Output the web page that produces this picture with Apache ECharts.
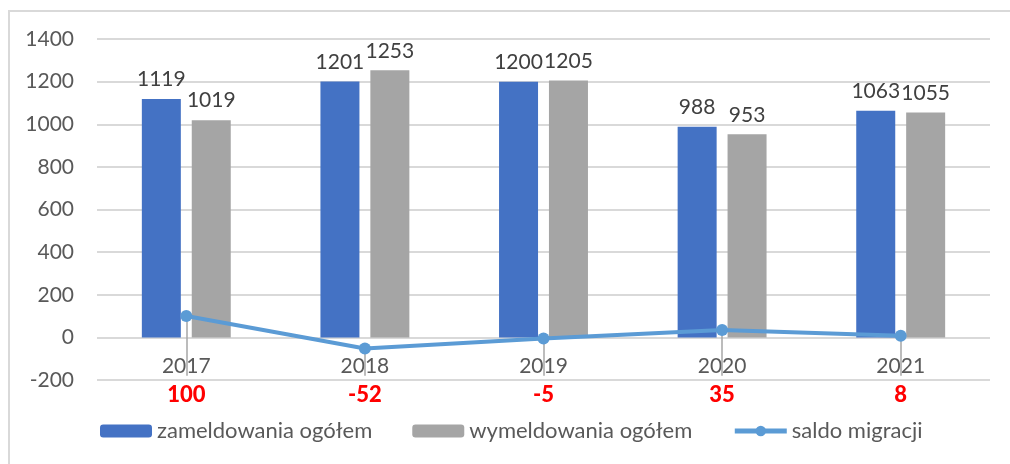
<!DOCTYPE html>
<html>
<head>
<meta charset="utf-8">
<script src="https://cdn.jsdelivr.net/npm/echarts@6/dist/echarts.min.js"></script>
<style>
    html, body { margin: 0; padding: 0; background: #fff; }
    #frame { position: absolute; left: 8px; top: 10px; width: 1002px; height: 454px;
        border-left: 2px solid #d9d9d9; border-top: 2px solid #d9d9d9; box-sizing: border-box; }
    #chart { position: absolute; left: 0; top: 0; width: 1010px; height: 464px; }
</style>
</head>
<body>
<div id="frame"></div>
<div id="chart"></div>
<script>
// dane wykresu
var years = ['2017', '2018', '2019', '2020', '2021'];
var zameldowania = [1119, 1201, 1200, 988, 1063];
var wymeldowania = [1019, 1253, 1205, 953, 1055];
var saldo = [100, -52, -5, 35, 8];
var yTicks = [-200, 0, 200, 400, 600, 800, 1000, 1200, 1400];

window.onload = function () {
    var myChart = echarts.init(document.getElementById('chart'));
    var font = 'Lato, "Liberation Sans", sans-serif';

    var barLabel = {
        show: true,
        position: 'top',
        distance: 9,
        color: '#404040',
        fontSize: 21,
        fontFamily: font
    };

    // linie odniesienia od punktu do etykiety
    var leaders = [];
    for (var i = 0; i < saldo.length; i++) {
        leaders.push([{ coord: [i, saldo[i]] }, { coord: [i, -180] }]);
    }

    var option = {
        animation: false,
        textStyle: { fontFamily: font },
        grid: { left: 97, top: 39, width: 893, height: 341 },
        legend: {
            bottom: 17,
            left: 95,
            itemWidth: 52,
            itemHeight: 13,
            itemGap: 40,
            textStyle: { color: '#595959', fontSize: 22, fontFamily: font },
            data: [
                'zameldowania ogółem',
                'wymeldowania ogółem',
                { name: 'saldo migracji', itemStyle: { color: '#5B9BD5' }, lineStyle: { color: '#5B9BD5', width: 5 } }
            ]
        },
        xAxis: {
            type: 'category',
            data: years,
            offset: -43,
            axisLine: { show: false, onZero: false },
            axisTick: { show: false },
            axisLabel: { color: '#595959', fontSize: 21, margin: 19, fontFamily: font }
        },
        yAxis: {
            type: 'value',
            min: yTicks[0],
            max: yTicks[yTicks.length - 1],
            interval: 200,
            axisLine: { show: false },
            axisTick: { show: false },
            axisLabel: {
                color: '#595959', fontSize: 21, margin: 23, fontFamily: font,
                formatter: function (v) { return String(v); }
            },
            splitLine: { lineStyle: { color: '#d9d9d9', width: 2 } }
        },
        series: [{
            name: 'zameldowania ogółem',
            type: 'bar',
            data: zameldowania,
            barWidth: 39,
            barGap: '28%',
            itemStyle: { color: '#4472C4' },
            label: barLabel
        }, {
            name: 'wymeldowania ogółem',
            type: 'bar',
            data: wymeldowania,
            barWidth: 39,
            itemStyle: { color: '#A5A5A5' },
            label: barLabel
        }, {
            name: 'saldo migracji',
            type: 'line',
            data: saldo,
            symbol: 'circle',
            symbolSize: 12,
            lineStyle: { color: '#5B9BD5', width: 4 },
            itemStyle: { color: '#5B9BD5' },
            label: {
                show: true,
                position: 'bottom',
                align: 'center',
                color: '#FF0000',
                fontWeight: 900,
                fontSize: 22,
                fontFamily: font,
                verticalAlign: 'middle'
            },
            labelLayout: { y: 395 },
            markLine: {
                silent: true,
                symbol: 'none',
                label: { show: false },
                lineStyle: { color: '#a6a6a6', width: 1.5, type: 'solid' },
                data: leaders
            },
            z: 5
        }]
    };

    myChart.setOption(option);
};
</script>
</body>
</html>
